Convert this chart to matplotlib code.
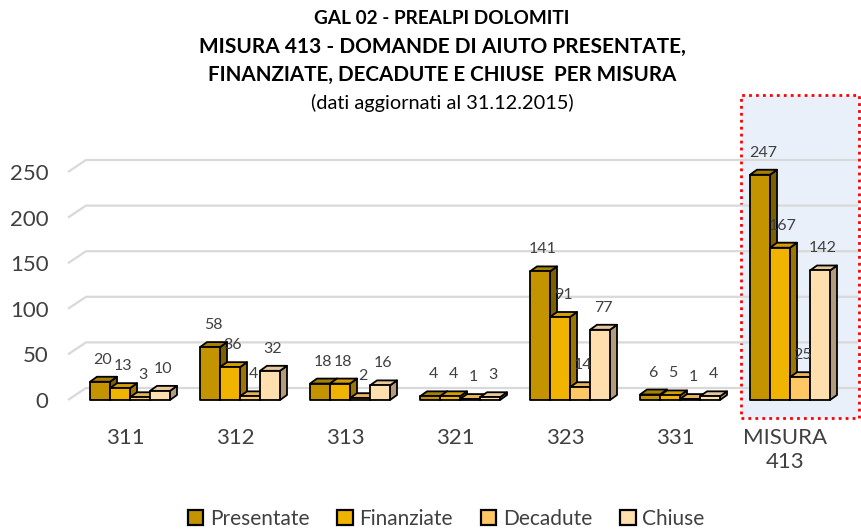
import numpy as np
import matplotlib
matplotlib.use("Agg")
import matplotlib.pyplot as plt
from matplotlib.patches import Polygon, Rectangle, Patch
import matplotlib.transforms as mtransforms

# === Dati ===
misure = ['311', '312', '313', '321', '323', '331', 'MISURA\n413']
presentate = [20, 58, 18, 4, 141, 6, 247]
finanziate = [13, 36, 18, 4, 91, 5, 167]
decadute = [3, 4, 2, 1, 14, 1, 25]
chiuse = [10, 32, 16, 3, 77, 4, 142]
serie = ['Presentate', 'Finanziate', 'Decadute', 'Chiuse']
yticks = [0, 50, 100, 150, 200, 250]

valori = [presentate, finanziate, decadute, chiuse]

# === Stile ===
col_front = ['#c39400', '#f0b400', '#ffc864', '#ffdfae']
col_top = ['#a88000', '#d49e00', '#e6b358', '#e8c99c']
col_side = ['#7d6000', '#9c7600', '#b38c4a', '#b39c7e']
grigio = '#404040'

plt.rcParams['font.family'] = ['Lato', 'DejaVu Sans']

W, H = 862, 531
fig = plt.figure(figsize=(W / 100, H / 100), dpi=100)

# === Layout in pixel ===
px_left, px_right = 65, 860
px_top, px_bot = 145, 418
y0_px = 400      # livello 0
scale = 0.912    # px per unita'
step = 110       # px tra gruppi
c0 = 130         # centro primo gruppo

xl = (px_left - c0) / step
xr = (px_right - c0) / step
yb = -(px_bot - y0_px) / scale
yt = (y0_px - px_top) / scale

ax = fig.add_axes([px_left / W, 1 - px_bot / H,
                   (px_right - px_left) / W, (px_bot - px_top) / H])
ax.set_xlim(xl, xr)
ax.set_ylim(yb, yt)


def px2x(p):
    return (p - c0) / step


def dx(p):
    return p / step


def dy(p):
    return p / scale


# === Riquadro misura 413 ===
blend = mtransforms.blended_transform_factory(ax.transData, fig.transFigure)
box = Rectangle((6 - dx(49), 1 - 418 / H), dx(118), (418 - 95) / H,
                transform=blend, facecolor='#e9f0fa', edgecolor='red',
                linestyle=(0, (1, 1.5)), lw=2, clip_on=False, zorder=0)
ax.add_patch(box)

# === Griglia ===
for v in yticks:
    ax.plot([px2x(68), px2x(86), xr - dx(2)], [v, v + dy(12), v + dy(12)],
            color='#d9d9d9', lw=1.6, zorder=1, solid_capstyle='butt')

# === Barre 3D ===
w = dx(20)
ddx, ddy = dx(7), dy(5)
for i in range(len(misure)):
    for j, vals in enumerate(valori):
        v = vals[i]
        x0 = i + (j - 2) * w
        x1 = x0 + w
        z = 3 + j
        side = Polygon([(x1, 0), (x1 + ddx, ddy), (x1 + ddx, v + ddy), (x1, v)],
                       facecolor=col_side[j], edgecolor='black', lw=1.3,
                       joinstyle='round', zorder=z)
        top = Polygon([(x0, v), (x0 + ddx, v + ddy), (x1 + ddx, v + ddy), (x1, v)],
                      facecolor=col_top[j], edgecolor='black', lw=1.3,
                      joinstyle='round', zorder=z)
        front = Rectangle((x0, 0), w, v, facecolor=col_front[j],
                          edgecolor='black', lw=1.3, joinstyle='round', zorder=z)
        ax.add_patch(side)
        ax.add_patch(top)
        ax.add_patch(front)
        ax.annotate(str(v), (x0 + w / 2, v), xytext=(3, 22),
                    textcoords='offset pixels', ha='center', va='center',
                    fontsize=11.5, color=grigio, zorder=20)

# === Assi ===
for s in ax.spines.values():
    s.set_visible(False)
ax.set_yticks(yticks)
ax.set_yticklabels([str(t) for t in yticks])
ax.set_xticks([i - dx(5) for i in range(len(misure))])
ax.set_xticklabels(misure, linespacing=1.25)
ax.tick_params(axis='y', length=0, pad=12, labelsize=16, labelcolor=grigio)
ax.tick_params(axis='x', length=0, pad=7, labelsize=16, labelcolor=grigio)

# === Titolo ===
xc = 442 / W
fig.text(xc, 1 - 18 / H, 'GAL 02 - PREALPI DOLOMITI', ha='center',
         va='center', fontsize=13.7, fontweight='bold', color='black')
fig.text(xc, 1 - 47 / H, 'MISURA 413 - DOMANDE DI AIUTO PRESENTATE,',
         ha='center', va='center', fontsize=15, fontweight='bold', color='black')
fig.text(xc, 1 - 75 / H, 'FINANZIATE, DECADUTE E CHIUSE  PER MISURA',
         ha='center', va='center', fontsize=14.9, fontweight='bold', color='black')
fig.text(xc, 1 - 103 / H, '(dati aggiornati al 31.12.2015)', ha='center',
         va='center', fontsize=14.4, color='black')

# === Legenda ===
handles = [Patch(facecolor=col_front[j], edgecolor='black', lw=1.6)
           for j in range(len(serie))]
fig.legend(handles, serie, loc='center', bbox_to_anchor=(446 / W, 1 - 519 / H),
           ncol=4, frameon=False, fontsize=15, handlelength=0.75,
           handleheight=0.75, handletextpad=0.3, columnspacing=1.35,
           labelcolor=grigio)

fig.savefig('out.png', dpi=100)
